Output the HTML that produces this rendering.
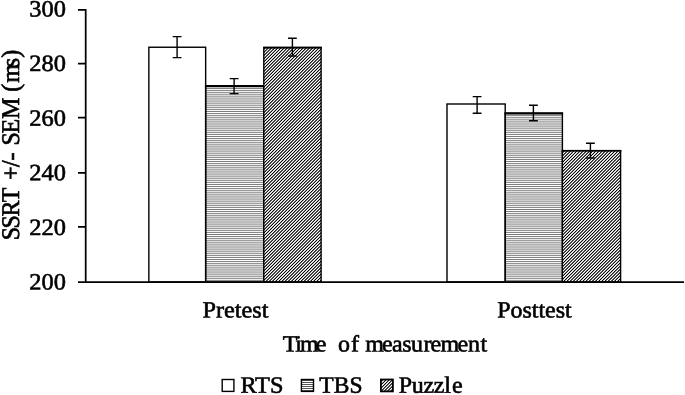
<!DOCTYPE html>
<html>
<head>
<meta charset="utf-8">
<title>SSRT chart</title>
<style>
html,body{margin:0;padding:0;background:#fff;}
body{width:685px;height:395px;overflow:hidden;}
svg{display:block;}
text{font-family:"Liberation Serif",serif;fill:#000;stroke:#000;stroke-width:0.62;}
</style>
</head>
<body>
<svg width="685" height="395" viewBox="0 0 685 395" font-size="24">
<rect x="0" y="0" width="685" height="395" fill="#fff"/>
<defs>
<clipPath id="cb0"><rect x="148.85" y="47.25" width="56.80" height="234.75"/></clipPath>
<clipPath id="cb1"><rect x="205.65" y="86.15" width="58.15" height="195.85"/></clipPath>
<clipPath id="cb2"><rect x="263.8" y="47.5" width="57.30" height="234.50"/></clipPath>
<clipPath id="cb3"><rect x="447.0" y="104.0" width="58.20" height="178.00"/></clipPath>
<clipPath id="cb4"><rect x="505.2" y="113.4" width="57.20" height="168.60"/></clipPath>
<clipPath id="cb5"><rect x="562.4" y="150.6" width="58.20" height="131.40"/></clipPath>
<clipPath id="cl0"><rect x="222.2" y="379.5" width="11.7" height="11.9"/></clipPath>
<clipPath id="cl1"><rect x="301.4" y="379.5" width="12.1" height="11.9"/></clipPath>
<clipPath id="cl2"><rect x="380.9" y="379.5" width="12.0" height="11.9"/></clipPath>
<pattern id="dg" x="0" y="0" width="19" height="19" patternUnits="userSpaceOnUse">
<g id="dgrow" shape-rendering="crispEdges">
<rect x="0" y="0" width="1" height="1" fill="#ffffff"/>
<rect x="1" y="0" width="1" height="1" fill="#8f8f8f"/>
<rect x="2" y="0" width="1" height="1" fill="#0e0e0e"/>
<rect x="3" y="0" width="1" height="1" fill="#ffffff"/>
<rect x="4" y="0" width="1" height="1" fill="#bebebe"/>
<rect x="5" y="0" width="1" height="1" fill="#010101"/>
<rect x="6" y="0" width="1" height="1" fill="#dadada"/>
<rect x="7" y="0" width="1" height="1" fill="#e9e9e9"/>
<rect x="8" y="0" width="1" height="1" fill="#040404"/>
<rect x="9" y="0" width="1" height="1" fill="#adadad"/>
<rect x="10" y="0" width="1" height="1" fill="#ffffff"/>
<rect x="11" y="0" width="1" height="1" fill="#161616"/>
<rect x="12" y="0" width="1" height="1" fill="#7d7d7d"/>
<rect x="13" y="0" width="1" height="1" fill="#ffffff"/>
<rect x="14" y="0" width="1" height="1" fill="#363636"/>
<rect x="15" y="0" width="1" height="1" fill="#505050"/>
<rect x="16" y="0" width="1" height="1" fill="#ffffff"/>
<rect x="17" y="0" width="1" height="1" fill="#5f5f5f"/>
<rect x="18" y="0" width="1" height="1" fill="#292929"/>
<rect x="19" y="0" width="1" height="1" fill="#ffffff"/>
<rect x="20" y="0" width="1" height="1" fill="#8f8f8f"/>
<rect x="21" y="0" width="1" height="1" fill="#0e0e0e"/>
<rect x="22" y="0" width="1" height="1" fill="#ffffff"/>
<rect x="23" y="0" width="1" height="1" fill="#bebebe"/>
<rect x="24" y="0" width="1" height="1" fill="#010101"/>
<rect x="25" y="0" width="1" height="1" fill="#dadada"/>
<rect x="26" y="0" width="1" height="1" fill="#e9e9e9"/>
<rect x="27" y="0" width="1" height="1" fill="#040404"/>
<rect x="28" y="0" width="1" height="1" fill="#adadad"/>
<rect x="29" y="0" width="1" height="1" fill="#ffffff"/>
<rect x="30" y="0" width="1" height="1" fill="#161616"/>
<rect x="31" y="0" width="1" height="1" fill="#7d7d7d"/>
<rect x="32" y="0" width="1" height="1" fill="#ffffff"/>
<rect x="33" y="0" width="1" height="1" fill="#363636"/>
<rect x="34" y="0" width="1" height="1" fill="#505050"/>
<rect x="35" y="0" width="1" height="1" fill="#ffffff"/>
<rect x="36" y="0" width="1" height="1" fill="#5f5f5f"/>
<rect x="37" y="0" width="1" height="1" fill="#292929"/>
</g>
<use href="#dgrow" x="-1" y="1"/>
<use href="#dgrow" x="-2" y="2"/>
<use href="#dgrow" x="-3" y="3"/>
<use href="#dgrow" x="-4" y="4"/>
<use href="#dgrow" x="-5" y="5"/>
<use href="#dgrow" x="-6" y="6"/>
<use href="#dgrow" x="-7" y="7"/>
<use href="#dgrow" x="-8" y="8"/>
<use href="#dgrow" x="-9" y="9"/>
<use href="#dgrow" x="-10" y="10"/>
<use href="#dgrow" x="-11" y="11"/>
<use href="#dgrow" x="-12" y="12"/>
<use href="#dgrow" x="-13" y="13"/>
<use href="#dgrow" x="-14" y="14"/>
<use href="#dgrow" x="-15" y="15"/>
<use href="#dgrow" x="-16" y="16"/>
<use href="#dgrow" x="-17" y="17"/>
<use href="#dgrow" x="-18" y="18"/>
</pattern>
</defs>
<!-- bars -->
<rect x="148.85" y="47.25" width="56.80" height="234.75" fill="none" stroke="#000" stroke-width="1.4"/>
<path clip-path="url(#cb1)" d="M205.65,86.47H263.80M205.65,88.55H263.80M205.65,90.64H263.80M205.65,92.72H263.80M205.65,94.81H263.80M205.65,96.89H263.80M205.65,98.98H263.80M205.65,101.06H263.80M205.65,103.15H263.80M205.65,105.23H263.80M205.65,107.32H263.80M205.65,109.40H263.80M205.65,111.49H263.80M205.65,113.57H263.80M205.65,115.66H263.80M205.65,117.74H263.80M205.65,119.83H263.80M205.65,121.91H263.80M205.65,124.00H263.80M205.65,126.08H263.80M205.65,128.17H263.80M205.65,130.25H263.80M205.65,132.34H263.80M205.65,134.42H263.80M205.65,136.51H263.80M205.65,138.59H263.80M205.65,140.68H263.80M205.65,142.76H263.80M205.65,144.85H263.80M205.65,146.93H263.80M205.65,149.02H263.80M205.65,151.10H263.80M205.65,153.19H263.80M205.65,155.27H263.80M205.65,157.36H263.80M205.65,159.44H263.80M205.65,161.53H263.80M205.65,163.62H263.80M205.65,165.70H263.80M205.65,167.79H263.80M205.65,169.87H263.80M205.65,171.96H263.80M205.65,174.04H263.80M205.65,176.13H263.80M205.65,178.21H263.80M205.65,180.30H263.80M205.65,182.38H263.80M205.65,184.47H263.80M205.65,186.55H263.80M205.65,188.64H263.80M205.65,190.72H263.80M205.65,192.81H263.80M205.65,194.89H263.80M205.65,196.98H263.80M205.65,199.06H263.80M205.65,201.15H263.80M205.65,203.23H263.80M205.65,205.32H263.80M205.65,207.40H263.80M205.65,209.49H263.80M205.65,211.57H263.80M205.65,213.66H263.80M205.65,215.74H263.80M205.65,217.83H263.80M205.65,219.91H263.80M205.65,222.00H263.80M205.65,224.08H263.80M205.65,226.17H263.80M205.65,228.25H263.80M205.65,230.34H263.80M205.65,232.42H263.80M205.65,234.51H263.80M205.65,236.59H263.80M205.65,238.68H263.80M205.65,240.76H263.80M205.65,242.85H263.80M205.65,244.93H263.80M205.65,247.02H263.80M205.65,249.10H263.80M205.65,251.19H263.80M205.65,253.27H263.80M205.65,255.36H263.80M205.65,257.44H263.80M205.65,259.53H263.80M205.65,261.61H263.80M205.65,263.70H263.80M205.65,265.78H263.80M205.65,267.87H263.80M205.65,269.95H263.80M205.65,272.04H263.80M205.65,274.12H263.80M205.65,276.21H263.80M205.65,278.29H263.80M205.65,280.38H263.80" stroke="#222" stroke-width="0.6" fill="none"/>
<rect x="205.65" y="86.15" width="58.15" height="195.85" fill="none" stroke="#000" stroke-width="1.4"/>
<path d="M204.95,86.15H264.50" stroke="#000" stroke-width="2.3" fill="none"/>
<rect x="263.8" y="47.5" width="57.30" height="234.50" fill="url(#dg)"/>
<rect x="263.8" y="47.5" width="57.30" height="234.50" fill="none" stroke="#000" stroke-width="1.4"/>
<path d="M263.10,47.60H321.80" stroke="#000" stroke-width="1.8" fill="none"/>
<rect x="447.0" y="104.0" width="58.20" height="178.00" fill="none" stroke="#000" stroke-width="1.4"/>
<path clip-path="url(#cb4)" d="M505.20,115.66H562.40M505.20,117.74H562.40M505.20,119.83H562.40M505.20,121.91H562.40M505.20,124.00H562.40M505.20,126.08H562.40M505.20,128.17H562.40M505.20,130.25H562.40M505.20,132.34H562.40M505.20,134.42H562.40M505.20,136.51H562.40M505.20,138.59H562.40M505.20,140.68H562.40M505.20,142.77H562.40M505.20,144.85H562.40M505.20,146.94H562.40M505.20,149.02H562.40M505.20,151.11H562.40M505.20,153.19H562.40M505.20,155.28H562.40M505.20,157.36H562.40M505.20,159.45H562.40M505.20,161.53H562.40M505.20,163.62H562.40M505.20,165.70H562.40M505.20,167.79H562.40M505.20,169.87H562.40M505.20,171.96H562.40M505.20,174.04H562.40M505.20,176.13H562.40M505.20,178.21H562.40M505.20,180.30H562.40M505.20,182.38H562.40M505.20,184.47H562.40M505.20,186.55H562.40M505.20,188.64H562.40M505.20,190.72H562.40M505.20,192.81H562.40M505.20,194.89H562.40M505.20,196.98H562.40M505.20,199.06H562.40M505.20,201.15H562.40M505.20,203.23H562.40M505.20,205.32H562.40M505.20,207.40H562.40M505.20,209.49H562.40M505.20,211.57H562.40M505.20,213.66H562.40M505.20,215.74H562.40M505.20,217.83H562.40M505.20,219.91H562.40M505.20,222.00H562.40M505.20,224.08H562.40M505.20,226.17H562.40M505.20,228.25H562.40M505.20,230.34H562.40M505.20,232.42H562.40M505.20,234.51H562.40M505.20,236.59H562.40M505.20,238.68H562.40M505.20,240.76H562.40M505.20,242.85H562.40M505.20,244.93H562.40M505.20,247.02H562.40M505.20,249.10H562.40M505.20,251.19H562.40M505.20,253.27H562.40M505.20,255.36H562.40M505.20,257.44H562.40M505.20,259.53H562.40M505.20,261.61H562.40M505.20,263.70H562.40M505.20,265.78H562.40M505.20,267.87H562.40M505.20,269.95H562.40M505.20,272.04H562.40M505.20,274.12H562.40M505.20,276.21H562.40M505.20,278.29H562.40M505.20,280.38H562.40" stroke="#222" stroke-width="0.6" fill="none"/>
<rect x="505.2" y="113.4" width="57.20" height="168.60" fill="none" stroke="#000" stroke-width="1.4"/>
<path d="M504.50,113.4H563.10" stroke="#000" stroke-width="2.3" fill="none"/>
<rect x="562.4" y="150.6" width="58.20" height="131.40" fill="url(#dg)"/>
<rect x="562.4" y="150.6" width="58.20" height="131.40" fill="none" stroke="#000" stroke-width="1.4"/>
<path d="M561.70,150.70H621.30" stroke="#000" stroke-width="1.5" fill="none"/>
<!-- error bars -->
<g stroke="#000" stroke-width="1.4" fill="none">
<path d="M177.1,36.6V57.6M172.7,36.6H181.5M172.7,57.6H181.5"/>
<path d="M234.1,78.6V93.6M229.7,78.6H238.5M229.7,93.6H238.5"/>
<path d="M292.4,38.3V56.0M288.0,38.3H296.8M288.0,56.0H296.8"/>
<path d="M477.1,96.6V113.2M472.7,96.6H481.5M472.7,113.2H481.5"/>
<path d="M533.4,105.2V120.8M529.0,105.2H537.8M529.0,120.8H537.8"/>
<path d="M590.4,143.2V158.0M586.0,143.2H594.8M586.0,158.0H594.8"/>
</g>
<!-- axes -->
<g stroke="#000" stroke-width="1.75" fill="none">
<path d="M85.7,9 V283"/>
<path d="M78,282.15 H684"/>
<path d="M78,9.85 H85.7 M78,63.5 H85.7 M78,117.5 H85.7 M78,172.9 H85.7 M78,226.9 H85.7"/>
</g>

<!-- y tick labels -->
<text transform="translate(29.3,16.4) rotate(0.03) scale(1,0.975)" textLength="36.6" lengthAdjust="spacingAndGlyphs">300</text>
<text transform="translate(29.3,71.04) rotate(0.03) scale(1,0.975)" textLength="36.6" lengthAdjust="spacingAndGlyphs">280</text>
<text transform="translate(29.3,125.68) rotate(0.03) scale(1,0.975)" textLength="36.6" lengthAdjust="spacingAndGlyphs">260</text>
<text transform="translate(29.3,180.32) rotate(0.03) scale(1,0.975)" textLength="36.6" lengthAdjust="spacingAndGlyphs">240</text>
<text transform="translate(29.3,234.96) rotate(0.03) scale(1,0.975)" textLength="36.6" lengthAdjust="spacingAndGlyphs">220</text>
<text transform="translate(29.3,289.6) rotate(0.03) scale(1,0.975)" textLength="36.6" lengthAdjust="spacingAndGlyphs">200</text>
<!-- category labels -->
<text transform="translate(202.5,317.4) rotate(0.03) scale(1,0.975)" textLength="66" lengthAdjust="spacingAndGlyphs">Pretest</text>
<text transform="translate(497.2,317.4) rotate(0.03) scale(1,0.975)" textLength="74.5" lengthAdjust="spacingAndGlyphs">Posttest</text>
<!-- x axis title -->
<text transform="translate(282.8,351.5) rotate(0.03) scale(1,0.975)" x="0.0 12.5 17.2 33.0 44.2 55.1 68.1 76.2 82.4 99.2 109.1 119.4 128.2 140.6 147.6 157.6 174.8 185.2 197.6">Time of measurement</text>
<!-- y axis title -->
<text transform="translate(19.0,239.8) rotate(-89.97) scale(1,1.06)" x="-0.4 11.3 23.3 37.5 52 59.7 72.7 79.3 88 94.3 106.3 120.7 143 148.0 157.0 172.6 182.0" y="0">SSRT +/- SEM (ms)</text>
<!-- legend -->
<rect x="222.2" y="379.5" width="11.7" height="11.9" fill="none" stroke="#000" stroke-width="1.4"/>
<path clip-path="url(#cl1)" d="M301.40,380.50H313.50M301.40,382.50H313.50M301.40,384.50H313.50M301.40,386.50H313.50M301.40,388.50H313.50M301.40,390.50H313.50" stroke="#111" stroke-width="0.72" fill="none"/>
<rect x="301.4" y="379.5" width="12.1" height="11.9" fill="none" stroke="#000" stroke-width="1.4"/>
<rect x="380.9" y="379.5" width="12.0" height="11.9" fill="url(#dg)"/>
<rect x="380.9" y="379.5" width="12.0" height="11.9" fill="none" stroke="#000" stroke-width="1.8"/>
<text transform="translate(240.4,392.8) rotate(0.03) scale(1,0.975)" textLength="43" lengthAdjust="spacingAndGlyphs">RTS</text>
<text transform="translate(319.3,392.8) rotate(0.03) scale(1,0.975)" textLength="43.2" lengthAdjust="spacingAndGlyphs">TBS</text>
<text transform="translate(398.8,392.8) rotate(0.03) scale(1,0.975)" x="0.0 13.0 24.6 35.0 45.4 53.1">Puzzle</text>

</svg>
</body>
</html>
